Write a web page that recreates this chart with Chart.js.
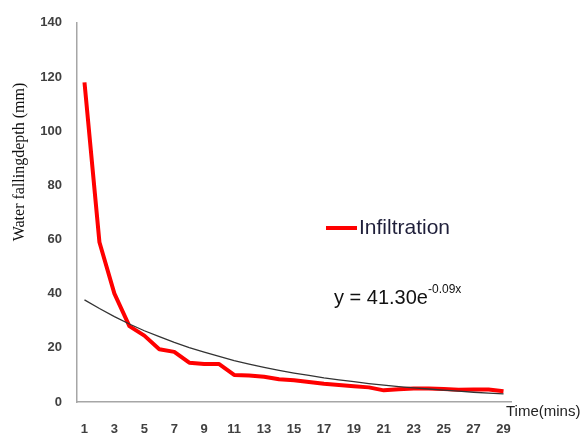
<!DOCTYPE html>
<html>
<head>
<meta charset="utf-8">
<script src="https://cdn.jsdelivr.net/npm/chart.js@4/dist/chart.umd.min.js"></script>
<style>
  html, body { margin: 0; padding: 0; background: #fff; }
  #wrap { width: 584px; height: 436px; position: relative; }
</style>
</head>
<body>
<div id="wrap"><canvas id="infChart" width="584" height="436"></canvas></div>
<script>
// Infiltration test - water falling depth vs time

const minutes = [1, 2, 3, 4, 5, 6, 7, 8, 9, 10, 11, 12, 13, 14, 15,
    16, 17, 18, 19, 20, 21, 22, 23, 24, 25, 26, 27, 28, 29];

const infiltration = [118, 59, 40, 28, 24.5, 19.5, 18.5, 14.5, 14, 14, 10, 9.8, 9.3, 8.4, 8,
    7.4, 6.7, 6.3, 5.8, 5.4, 4.3, 4.7, 5, 5, 4.8, 4.5, 4.6, 4.6, 4];

// exponential trendline
const trend = [37.7, 34.5, 31.5, 28.8, 26.3, 24.1, 22.0, 20.1, 18.4, 16.8, 15.3, 14.0, 12.8, 11.7, 10.7,
    9.8, 8.9, 8.2, 7.5, 6.8, 6.2, 5.7, 5.2, 4.8, 4.4, 4.0, 3.6, 3.3, 3.0];

const yTicks = [0, 20, 40, 60, 80, 100, 120, 140];

const seriesName = 'Infiltration';
const equation = 'y = 41.30e';
const equationExp = '-0.09x';
const xUnit = 'Time(mins)';
const yTitle = 'Water fallingdepth (mm)';

/**
 * Dibuja leyenda, ecuacion, titulo Y y etiqueta del eje X
 */
const extrasPlugin = {
    id: 'extras',
    afterDraw(chart) {
        const ctx = chart.ctx;
        ctx.save();

        // leyenda
        ctx.strokeStyle = '#ff0000';
        ctx.lineWidth = 4;
        ctx.beginPath();
        ctx.moveTo(326, 228);
        ctx.lineTo(357, 228);
        ctx.stroke();
        ctx.fillStyle = '#1f1f3a';
        ctx.font = '21px "Liberation Sans", sans-serif';
        ctx.textBaseline = 'middle';
        ctx.textAlign = 'left';
        ctx.fillText(seriesName, 359, 228);

        // ecuacion
        ctx.fillStyle = '#111';
        ctx.font = '20px "Liberation Sans", sans-serif';
        ctx.fillText(equation, 334, 298);
        const w = ctx.measureText(equation).width;
        ctx.font = '12px "Liberation Sans", sans-serif';
        ctx.fillText(equationExp, 334 + w, 290);

        // unidad eje X
        ctx.fillStyle = '#222';
        ctx.font = '15px "Liberation Sans", sans-serif';
        ctx.fillText(xUnit, 506, 412);

        // titulo eje Y
        ctx.translate(20, 162);
        ctx.rotate(-Math.PI / 2);
        ctx.textAlign = 'center';
        ctx.fillStyle = '#111';
        ctx.font = '16px "Liberation Serif", serif';
        ctx.fillText(yTitle, 0, 0);

        ctx.restore();
    }
};

const ctx = document.getElementById('infChart');

new Chart(ctx, {
    type: 'line',
    data: {
        labels: minutes,
        datasets: [
            {
                label: 'trend',
                data: trend,
                borderColor: '#333333',
                borderWidth: 1.3,
                pointRadius: 0,
                tension: 0,
                order: 1,
            },
            {
                label: seriesName,
                data: infiltration,
                borderColor: '#ff0000',
                borderWidth: 4,
                pointRadius: 0,
                tension: 0,
                borderJoinStyle: 'round',
                order: 2,
            },
        ],
    },
    options: {
        responsive: false,
        animation: false,
        layout: {
            padding: { top: 20, right: 73, bottom: 0, left: 0 },
        },
        plugins: {
            legend: { display: false },
            tooltip: { enabled: false },
        },
        scales: {
            x: {
                type: 'category',
                offset: true,
                grid: { display: false, drawTicks: false },
                border: { display: true, color: '#a6a6a6', width: 1.5 },
                ticks: {
                    autoSkip: false,
                    maxRotation: 0,
                    padding: 20,
                    color: '#404040',
                    font: { family: '"Liberation Sans", sans-serif', size: 13, weight: 'bold' },
                    callback: function (value, index) {
                        return index % 2 === 0 ? minutes[index] : '';
                    },
                },
                afterFit(scale) { scale.height = 34; },
            },
            y: {
                min: 0,
                max: 140,
                grid: { display: false, drawTicks: false },
                border: { display: true, color: '#a6a6a6', width: 1.5 },
                afterBuildTicks(scale) {
                    scale.ticks = yTicks.map(v => ({ value: v }));
                },
                ticks: {
                    padding: 15,
                    color: '#404040',
                    font: { family: '"Liberation Sans", sans-serif', size: 13, weight: 'bold' },
                },
                afterFit(scale) { scale.width = 77; },
            },
        },
    },
    plugins: [extrasPlugin],
});
</script>
</body>
</html>
